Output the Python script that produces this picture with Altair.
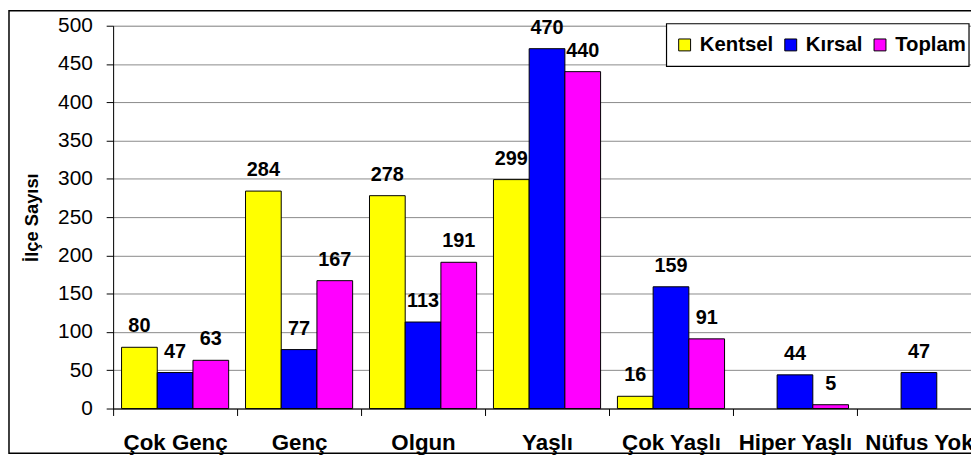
import altair as alt
import pandas as pd

categories = ["Çok Genç", "Genç", "Olgun", "Yaşlı", "Çok Yaşlı", "Hiper Yaşlı", "Nüfus Yok"]
series = ["Kentsel", "Kırsal", "Toplam"]
kentsel = [80, 284, 278, 299, 16, 0, 0]
kirsal = [47, 77, 113, 470, 159, 44, 47]
toplam = [63, 167, 191, 440, 91, 5, 0]
colors = ["#FFFF00", "#0000FF", "#FF00FF"]
y_ticks = [0, 50, 100, 150, 200, 250, 300, 350, 400, 450, 500]

rows = []
for i, c in enumerate(categories):
    for s, vals in zip(series, [kentsel, kirsal, toplam]):
        rows.append({"kategori": c, "seri": s, "deger": vals[i]})
df = pd.DataFrame(rows)

FONT = "Liberation Sans"
PAD_L = 106
W, H = 971 - PAD_L, 386

x_enc = alt.X(
    "kategori:N", sort=categories,
    scale=alt.Scale(range=[0, 875], paddingInner=0, paddingOuter=0),
    axis=alt.Axis(title=None, labelAngle=0, labelFont=FONT, labelFontSize=22.5,
                  labelFontWeight="bold", labelColor="black", tickSize=7,
                  tickOffset=-62.5, labelOffset=62.5, labelPadding=16,
                  domainColor="black", tickColor="black", grid=False,
                  labelLimit=300, labelOverlap=False),
)
xoff_enc = alt.XOffset("seri:N", sort=series,
                       scale=alt.Scale(domain=series, paddingInner=0, paddingOuter=0.236))
y_enc = alt.Y(
    "deger:Q", scale=alt.Scale(domain=[0, 500], nice=False),
    axis=alt.Axis(values=y_ticks, title="İlçe Sayısı", titleFont=FONT, titleFontSize=18.5,
                  titleFontWeight="bold", titleColor="black", titlePadding=16,
                  labelFont=FONT, labelFontSize=21, labelColor="black", labelPadding=14,
                  tickSize=7, tickColor="black", domainColor="black",
                  gridColor="#8a8a8a", gridWidth=1),
)
color_enc = alt.Color(
    "seri:N", sort=series, scale=alt.Scale(domain=series, range=colors),
    legend=alt.Legend(orient="none", legendX=566, legendY=9, direction="horizontal",
                      title=None, symbolType="square", symbolSize=144,
                      symbolStrokeColor="black", symbolStrokeWidth=1,
                      labelFont=FONT, labelFontSize=20.5, labelFontWeight="bold",
                      labelColor="black", padding=0, columnPadding=7, labelOffset=5),
)

base = alt.Chart(df).transform_filter(alt.datum.deger > 0)
bars = base.mark_bar(stroke="black", strokeWidth=1).encode(
    x=x_enc, xOffset=xoff_enc, y=y_enc, color=color_enc)
labels = base.mark_text(
    dy=-21, fontSize=20, fontWeight="bold", font=FONT, color="black", baseline="middle"
).encode(x=x_enc, xOffset=xoff_enc, y=y_enc, text="deger:Q")

one = pd.DataFrame({"f": [0]})
frame = alt.Chart(one).mark_rect(
    fillOpacity=0, stroke="black", strokeWidth=1.5
).encode(x=alt.value(-105), x2=alt.value(890), y=alt.value(-15), y2=alt.value(431))
legend_box = alt.Chart(one).mark_rect(
    fill="white", stroke="black", strokeWidth=1.2
).encode(x=alt.value(558), x2=alt.value(863), y=alt.value(-2), y2=alt.value(41))

chart = alt.layer(frame, bars, labels, legend_box).properties(
    width=W, height=H,
    autosize=alt.AutoSizeParams(type="none"),
    padding={"left": PAD_L, "top": 16, "right": 0, "bottom": 46},
).configure_view(stroke=None).configure(background="white")

chart.save("out.html", embed_options={"renderer": "svg", "actions": False})
